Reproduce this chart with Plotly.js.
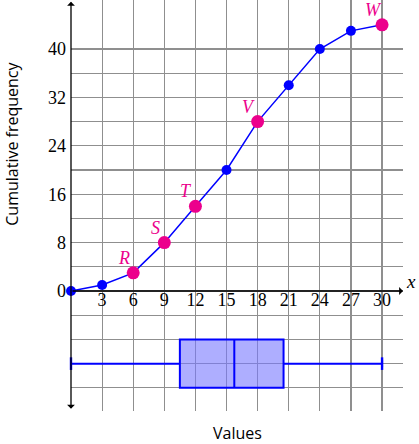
<!DOCTYPE html>
<html>
<head>
<meta charset="utf-8">
<script src="https://cdn.plot.ly/plotly-3.0.1.min.js"></script>
<style>html,body{margin:0;padding:0;background:#fff;}#chart{width:419px;height:444px;}</style>
</head>
<body>
<div id="chart"></div>
<script>
// ---- data ----
var values = [0, 3, 6, 9, 12, 15, 18, 21, 24, 27, 30];
var cumFreq = [0, 1, 3, 8, 14, 20, 28, 34, 40, 43, 44];
var pointNames = ['R', 'S', 'T', 'V', 'W'];
var namedX = [6, 9, 12, 18, 30];
var namedY = [3, 8, 14, 28, 44];
var boxMin = [0];
var boxQ1 = [10.5];
var boxMedian = [15.75];
var boxQ3 = [20.5];
var boxMax = [30];
var xTickVals = [3, 6, 9, 12, 15, 18, 21, 24, 27, 30];
var xTickText = ['3', '6', '9', '12', '15', '18', '21', '24', '27', '30'];
var yGridVals = [-16, -12, -8, -4, 0, 4, 8, 12, 16, 20, 24, 28, 32, 36, 40];
var yTickText = ['', '', '', '', '0', '', '8', '', '16', '', '24', '', '32', '', '40'];

var blue = '#0000ff';
var pink = '#ec008c';
var serif = "'Liberation Serif', 'DejaVu Serif', serif";
var sans = "'Open Sans', 'Noto Sans', sans-serif";

var XR = [0, 32.02];
var YR = [-19.83, 48.1];
var boxCenter = -12;

var traces = [
  {
    type: 'box', orientation: 'h', xaxis: 'x2', yaxis: 'y',
    y0: boxCenter, width: 8,
    lowerfence: boxMin, q1: boxQ1, median: boxMedian, q3: boxQ3, upperfence: boxMax,
    fillcolor: 'rgba(120,120,255,0.6)',
    line: {color: blue, width: 2},
    whiskerwidth: 0.15,
    boxpoints: false, hoverinfo: 'skip', showlegend: false
  },
  {
    // whisker end caps
    type: 'scatter', mode: 'markers', xaxis: 'x2', yaxis: 'y',
    x: boxMin.concat(boxMax), y: [boxCenter, boxCenter],
    marker: {symbol: 'line-ns', size: 9, line: {color: blue, width: 2.4}},
    cliponaxis: false, hoverinfo: 'skip', showlegend: false
  },
  {
    type: 'scatter', mode: 'lines+markers', x: values, y: cumFreq,
    line: {color: blue, width: 1.5},
    marker: {color: blue, size: 10},
    cliponaxis: false, showlegend: false
  },
  {
    type: 'scatter', mode: 'markers', x: namedX, y: namedY,
    marker: {color: pink, size: 13},
    cliponaxis: false, showlegend: false
  }
];

var annotations = [];
for (var i = 0; i < pointNames.length; i++) {
  annotations.push({
    x: namedX[i], y: namedY[i], xref: 'x', yref: 'y',
    text: '<i>' + pointNames[i] + '</i>', showarrow: false,
    xanchor: 'center', yanchor: 'middle',
    xshift: -9, yshift: 15,
    font: {family: serif, size: 18, color: pink}
  });
}
// axes with arrows
annotations.push({
  x: 32.02, y: 0, ax: 0, ay: 0, xref: 'x', yref: 'y', axref: 'x', ayref: 'y',
  text: '', showarrow: true, arrowhead: 1, arrowsize: 1, arrowwidth: 1.3, arrowcolor: '#000'
});
annotations.push({
  x: 0, y: 47.8, ax: 0, ay: -19.7, xref: 'x', yref: 'y', axref: 'x', ayref: 'y',
  text: '', showarrow: true, arrowhead: 1, startarrowhead: 1, arrowside: 'end+start',
  arrowsize: 1, startarrowsize: 1, arrowwidth: 1.3, arrowcolor: '#000'
});
// x label at arrow end
annotations.push({
  x: 1.024, y: 0.314, xref: 'paper', yref: 'paper', text: '<i>x</i>', showarrow: false,
  xanchor: 'center', yanchor: 'middle',
  font: {family: serif, size: 19, color: '#000'}
});
// titles
annotations.push({
  x: 0.5, y: -0.0535, xref: 'paper', yref: 'paper', text: 'Values', showarrow: false,
  xanchor: 'center', yanchor: 'middle', borderpad: 0,
  font: {family: sans, size: 16, color: '#000'}
});
annotations.push({
  x: -0.178, y: 0.65, xref: 'paper', yref: 'paper', text: 'Cumulative frequency', showarrow: false,
  xanchor: 'center', yanchor: 'middle', textangle: -90,
  font: {family: sans, size: 16, color: '#000'}
});

var layout = {
  width: 419, height: 444,
  margin: {l: 71, r: 16, t: 0, b: 33, pad: 0},
  paper_bgcolor: '#fff', plot_bgcolor: '#fff',
  showlegend: false,
  xaxis: {
    range: XR, type: 'linear', tickmode: 'array', tickvals: [0].concat(xTickVals),
    showticklabels: false, ticks: '', showgrid: true, gridcolor: '#8f8f8f', gridwidth: 1.2,
    zeroline: false, showline: false, fixedrange: true
  },
  xaxis2: {
    range: XR, type: 'linear', overlaying: 'x', anchor: 'free', position: 0.302,
    tickmode: 'array', tickvals: xTickVals, ticktext: xTickText,
    ticks: '', showgrid: false, zeroline: false, showline: false,
    tickfont: {family: serif, size: 18, color: '#000'}, fixedrange: true
  },
  yaxis: {
    range: YR, type: 'linear', tickmode: 'array', tickvals: yGridVals, ticktext: yTickText,
    ticks: '', showgrid: true, gridcolor: '#8f8f8f', gridwidth: 1.2,
    zeroline: false, showline: false, ticklabelstandoff: 4,
    tickfont: {family: serif, size: 18, color: '#000'}, fixedrange: true
  },
  annotations: annotations
};

Plotly.newPlot('chart', traces, layout, {staticPlot: true, displayModeBar: false});
</script>
</body>
</html>
